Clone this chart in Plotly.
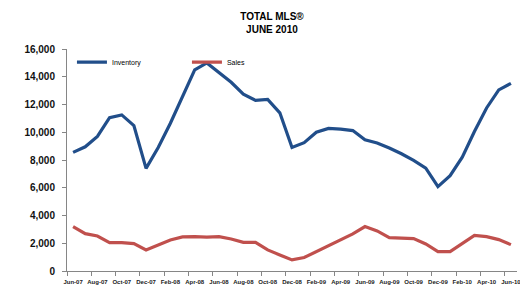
import plotly.graph_objects as go

months = ["Jun-07","Jul-07","Aug-07","Sep-07","Oct-07","Nov-07","Dec-07",
          "Jan-08","Feb-08","Mar-08","Apr-08","May-08","Jun-08","Jul-08","Aug-08","Sep-08","Oct-08","Nov-08","Dec-08",
          "Jan-09","Feb-09","Mar-09","Apr-09","May-09","Jun-09","Jul-09","Aug-09","Sep-09","Oct-09","Nov-09","Dec-09",
          "Jan-10","Feb-10","Mar-10","Apr-10","May-10","Jun-10"]

inventory = [8550, 8950, 9700, 11050, 11250, 10480, 7400,
             8900, 10650, 12550, 14500, 15000, 14300, 13600, 12750, 12300, 12370, 11400, 8900,
             9250, 10000, 10280, 10230, 10120, 9450, 9230, 8860, 8450, 7970, 7420, 6080,
             6870, 8200, 10050, 11750, 13050, 13520]

sales = [3200, 2690, 2520, 2050, 2050, 1970, 1520,
         1850, 2240, 2460, 2480, 2440, 2480, 2310, 2070, 2070, 1520, 1160, 800,
         970, 1400, 1810, 2240, 2670, 3200, 2890, 2400, 2380, 2340, 1950, 1400,
         1400, 1970, 2570, 2480, 2260, 1900]

y_ticks = [0, 2000, 4000, 6000, 8000, 10000, 12000, 14000, 16000]

x = list(range(len(months)))
label_pos = x[::2]
label_text = months[::2]

fig = go.Figure()
fig.add_trace(go.Scatter(x=x, y=inventory, mode="lines", name="Inventory",
                         line=dict(color="#214E8A", width=3.2)))
fig.add_trace(go.Scatter(x=x, y=sales, mode="lines", name="Sales",
                         line=dict(color="#C0504D", width=3.2)))

fig.update_layout(
    width=520, height=285,
    margin=dict(l=67, r=3, t=49, b=14, autoexpand=False),
    paper_bgcolor="white", plot_bgcolor="white",
    font=dict(family="Liberation Sans", color="#000000"),
    title=dict(text="<b>TOTAL MLS®<br>JUNE 2010</b>", x=0.523, xanchor="center",
               y=0.93, yanchor="top", font=dict(size=10, family="Liberation Sans")),
    showlegend=True,
    legend=dict(orientation="h", x=0.011, xanchor="left", y=0.941, yanchor="middle",
                font=dict(size=7), bgcolor="rgba(0,0,0,0)", entrywidth=70,
                itemwidth=30, tracegroupgap=0),
)

fig.update_xaxes(
    range=[-0.5, len(months) - 0.5],
    tickmode="array", tickvals=label_pos, ticktext=[f"<b>{t}</b>" for t in label_text],
    tickangle=0, ticklabeloverflow="allow",
    ticks="outside", ticklen=5, tickcolor="rgba(0,0,0,0)",
    tickfont=dict(size=6, family="Liberation Sans", color="#222"),
    showline=True, linecolor="#868686", linewidth=1,
    showgrid=False, zeroline=False,
    minor=dict(tickmode="array", tickvals=[p - 0.5 for p in label_pos],
               ticks="outside", ticklen=4, tickcolor="#868686", showgrid=False),
)
fig.update_yaxes(
    range=[0, 16000],
    tickmode="array", tickvals=y_ticks, ticktext=[f"<b>{v:,}</b>" for v in y_ticks],
    ticks="outside", ticklen=4, tickcolor="#868686", ticklabelstandoff=5,
    tickfont=dict(size=10, family="Liberation Sans", color="#111"),
    showline=True, linecolor="#868686", linewidth=1,
    showgrid=False, zeroline=False,
)

fig.write_html("out.html",
               config={"displayModeBar": False},
               post_script="document.body.style.margin='0';document.body.style.overflow='hidden';")
